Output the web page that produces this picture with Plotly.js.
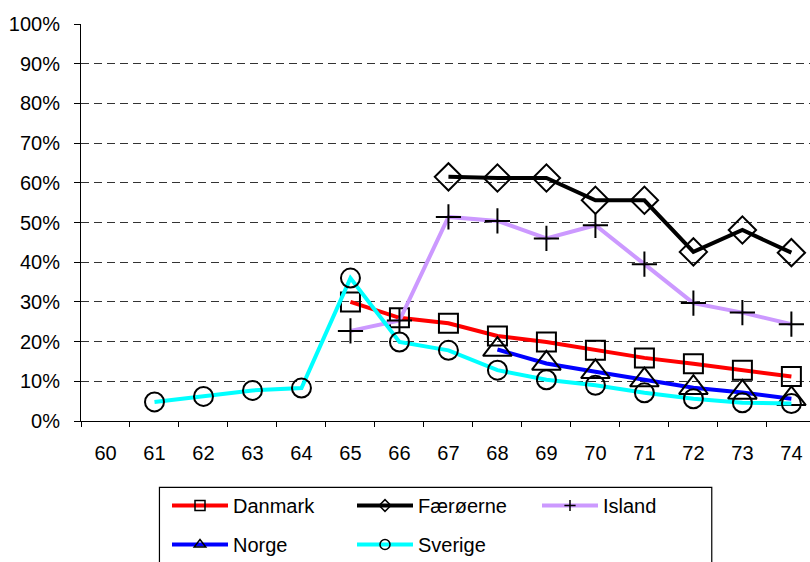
<!DOCTYPE html>
<html><head><meta charset="utf-8">
<script src="https://cdn.plot.ly/plotly-3.0.1.min.js"></script>
<style>html,body{margin:0;padding:0;overflow:hidden;background:#fff}#chart{width:810px;height:562px}</style>
</head><body><div id="chart"></div>
<script>
const categories = ["60","61","62","63","64","65","66","67","68","69","70","71","72","73","74"];
const yTickVals = [0,10,20,30,40,50,60,70,80,90,100];
const yTickText = ["0%","10%","20%","30%","40%","50%","60%","70%","80%","90%","100%"];

const danmarkYears = ["65","66","67","68","69","70","71","72","73","74"];
const danmarkValues = [30.0,26.0,24.6,21.4,19.9,17.8,15.9,14.4,12.8,11.2];

const faeroerneYears = ["67","68","69","70","71","72","73","74"];
const faeroerneValues = [61.5,61.2,61.2,55.6,55.6,42.6,48.1,42.4];

const islandYears = ["65","66","67","68","69","70","71","72","73","74"];
const islandValues = [22.7,25.3,51.4,50.4,46.0,49.3,39.5,29.7,27.3,24.4];

const norgeYears = ["68","69","70","71","72","73","74"];
const norgeValues = [18.0,14.5,12.4,10.3,8.4,7.2,5.6];

const sverigeYears = ["61","62","63","64","65","66","67","68","69","70","71","72","73","74"];
const sverigeValues = [4.8,6.2,7.7,8.3,36.0,19.9,17.8,12.8,10.4,9.0,7.1,5.6,4.6,4.4];

const series = [
  {name:"Danmark", x:danmarkYears, y:danmarkValues, color:"#FF0000", symbol:"square-open", size:19, lsize:10, legend:"legend"},
  {name:"Færøerne", x:faeroerneYears, y:faeroerneValues, color:"#000000", symbol:"diamond-open", size:21, lsize:9, legend:"legend"},
  {name:"Island", x:islandYears, y:islandValues, color:"#CC99FF", symbol:"cross-thin-open", size:18, lsize:8, legend:"legend"},
  {name:"Norge", x:norgeYears, y:norgeValues, color:"#0000FF", symbol:"triangle-up-open", size:25, lsize:10, legend:"legend2"},
  {name:"Sverige", x:sverigeYears, y:sverigeValues, color:"#00FFFF", symbol:"circle-open", size:19, lsize:10, legend:"legend2"}
];

const traces = [];
series.forEach(s => {
  traces.push({
    type:"scatter", mode:"lines+markers", x:s.x, y:s.y, name:s.name, showlegend:false,
    line:{color:s.color, width:4},
    marker:{symbol:s.symbol, size:s.size, color:"#000000", line:{color:"#000000", width:2}},
    cliponaxis:false, hoverinfo:"skip"
  });
});
series.forEach(s => {
  traces.push({
    type:"scatter", mode:"lines+markers", x:[null], y:[null], name:s.name, showlegend:true, legend:s.legend,
    line:{color:s.color, width:4},
    marker:{symbol:s.symbol, size:s.lsize, color:"#000000", line:{color:"#000000", width:1.5}},
    hoverinfo:"skip"
  });
});

const legendCommon = {
  orientation:"h", xref:"container", yref:"container", xanchor:"left", yanchor:"top",
  font:{family:"Liberation Sans, Arial, sans-serif", size:20, color:"#000"},
  bgcolor:"rgba(0,0,0,0)", borderwidth:0, itemwidth:56, entrywidth:114, entrywidthmode:"pixels",
  itemclick:false, itemdoubleclick:false, tracegroupgap:0
};

const layout = {
  width:810, height:562,
  margin:{l:80.5, r:0, t:24, b:141, pad:0, autoexpand:false},
  paper_bgcolor:"#ffffff", plot_bgcolor:"#ffffff",
  font:{family:"Liberation Sans, Arial, sans-serif", size:20, color:"#000"},
  xaxis:{
    type:"category", categoryorder:"array", categoryarray:categories,
    range:[-0.5, 14.38], tickson:"boundaries", ticks:"outside", ticklen:5, tickcolor:"#000", tickwidth:1,
    showline:true, linecolor:"#000", linewidth:1, showgrid:false, zeroline:false,
    tickfont:{size:20}, ticklabelstandoff:14, fixedrange:true
  },
  yaxis:{
    range:[0,100], tickmode:"array", tickvals:yTickVals, ticktext:yTickText, ticks:"outside", ticklen:6, tickcolor:"#000",
    showline:true, linecolor:"#000", linewidth:1, zeroline:false,
    showgrid:true, gridcolor:"#333333", gridwidth:1, griddash:"8px,5px",
    tickfont:{size:20}, ticklabelstandoff:10, fixedrange:true
  },
  legend:Object.assign({}, legendCommon, {x:167/810, y:1-486/562}),
  legend2:Object.assign({}, legendCommon, {x:167/810, y:1-525/562}),
  shapes:[{type:"rect", xref:"paper", yref:"paper", x0:(159-80.5)/729.5, x1:(711.7-80.5)/729.5,
    y0:(421-487.3)/397, y1:-0.6, line:{color:"#000", width:1.2}, fillcolor:"rgba(0,0,0,0)", layer:"above"}],
  showlegend:true
};

Plotly.newPlot("chart", traces, layout, {displayModeBar:false, staticPlot:true});
</script></body></html>
